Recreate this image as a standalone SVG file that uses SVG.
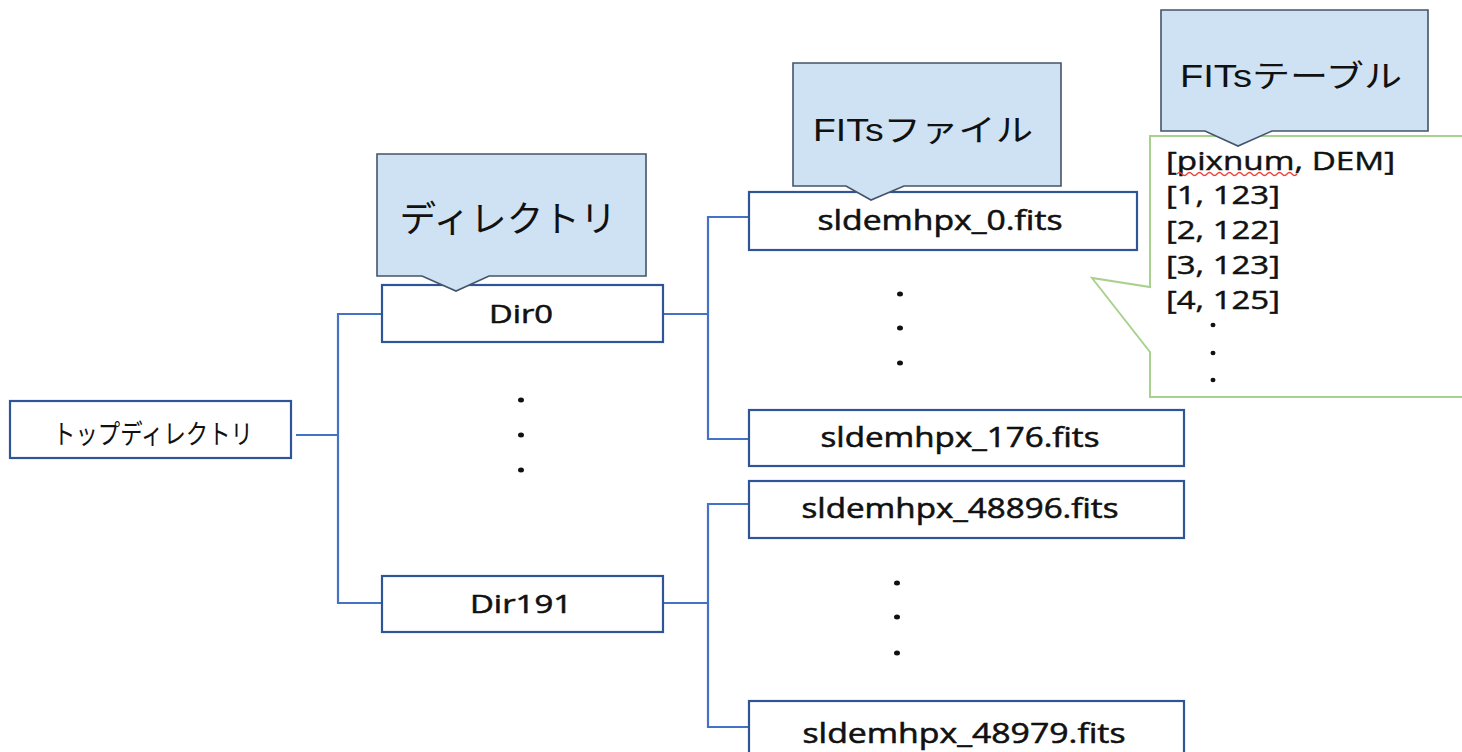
<svg xmlns="http://www.w3.org/2000/svg" width="1462" height="752" viewBox="0 0 1462 752">
  <style>
    .box { fill: #ffffff; stroke: #2f5597; stroke-width: 2.2; }
    .link { fill: none; stroke: #4472c4; stroke-width: 2.2; }
    .call { fill: #cfe2f3; stroke: #44546a; stroke-width: 1.6; }
    .table { fill: #ffffff; stroke: #a9d18e; stroke-width: 2; }
    .lbl { font-family: "Open Sans", "Noto Sans", sans-serif; fill: #111111; stroke: #111111; stroke-width: 0.55; text-anchor: middle; }
    .jp { font-family: "Noto Sans CJK JP", sans-serif; fill: #111111; text-anchor: middle; }
    .head { font-family: "Liberation Sans", "Noto Sans CJK JP", sans-serif; fill: #111111; text-anchor: middle; }
    .row { font-family: "Open Sans", "Noto Sans", sans-serif; font-size: 26px; fill: #111111; stroke: #111111; stroke-width: 0.45; }
    .dot { fill: #111111; }
  </style>

  <!-- tree connectors -->
  <g id="connectors">
    <path class="link" d="M296 435 H338"/>
    <path class="link" d="M382 314 H338 V603 H382"/>
    <path class="link" d="M663 314 H708"/>
    <path class="link" d="M749 217 H708 V439 H749"/>
    <path class="link" d="M663 603 H708"/>
    <path class="link" d="M749 504 H708 V727 H749"/>
  </g>

  <!-- root directory -->
  <g id="top-dir">
    <rect class="box" x="10" y="401" width="281" height="57"/>
    <text class="jp" x="153" y="444" font-size="27" textLength="200" lengthAdjust="spacingAndGlyphs">トップディレクトリ</text>
  </g>

  <!-- directories -->
  <g id="dir0">
    <rect class="box" x="382" y="285" width="281" height="57"/>
    <text class="lbl" x="521" y="323" font-size="25" textLength="64" lengthAdjust="spacingAndGlyphs">Dir0</text>
  </g>
  <g id="dir-dots">
    <ellipse class="dot" cx="521" cy="400" rx="3" ry="2.5"/>
    <ellipse class="dot" cx="521" cy="435" rx="3" ry="2.5"/>
    <ellipse class="dot" cx="521" cy="470" rx="3" ry="2.5"/>
  </g>
  <g id="dir191">
    <rect class="box" x="382" y="576" width="281" height="56"/>
    <text class="lbl" x="521" y="613" font-size="25" textLength="102" lengthAdjust="spacingAndGlyphs">Dir191</text>
  </g>

  <!-- FITS files -->
  <g id="file-0">
    <rect class="box" x="749" y="192" width="388" height="58"/>
    <text class="lbl" x="940" y="230" font-size="27" textLength="245" lengthAdjust="spacingAndGlyphs">sldemhpx_0.fits</text>
  </g>
  <g id="file-dots-a">
    <ellipse class="dot" cx="900" cy="294" rx="3" ry="2.5"/>
    <ellipse class="dot" cx="900" cy="328" rx="3" ry="2.5"/>
    <ellipse class="dot" cx="900" cy="363" rx="3" ry="2.5"/>
  </g>
  <g id="file-176">
    <rect class="box" x="749" y="410" width="435" height="56"/>
    <text class="lbl" x="960" y="447" font-size="27" textLength="279" lengthAdjust="spacingAndGlyphs">sldemhpx_176.fits</text>
  </g>
  <g id="file-48896">
    <rect class="box" x="749" y="481" width="435" height="57"/>
    <text class="lbl" x="960" y="518" font-size="27" textLength="317" lengthAdjust="spacingAndGlyphs">sldemhpx_48896.fits</text>
  </g>
  <g id="file-dots-b">
    <ellipse class="dot" cx="897" cy="583" rx="3" ry="2.5"/>
    <ellipse class="dot" cx="897" cy="617" rx="3" ry="2.5"/>
    <ellipse class="dot" cx="897" cy="653" rx="3" ry="2.5"/>
  </g>
  <g id="file-48979">
    <rect class="box" x="749" y="701" width="435" height="70"/>
    <text class="lbl" x="964" y="743" font-size="27" textLength="323" lengthAdjust="spacingAndGlyphs">sldemhpx_48979.fits</text>
  </g>

  <!-- table contents callout -->
  <g id="table-content">
    <path class="table" d="M1150 136 H1475 V397 H1150 V352 L1092 278 L1150 287 Z"/>
    <text class="row" x="1166" y="170" textLength="229" lengthAdjust="spacingAndGlyphs">[pixnum, DEM]</text>
    <path d="M1177 174 q2.5 -3 5 0 t5 0 t5 0 t5 0 t5 0 t5 0 t5 0 t5 0 t5 0 t5 0 t5 0 t5 0 t5 0 t5 0 t5 0 t5 0 t5 0 t5 0 t5 0 t5 0 t5 0 t5 0 t5 0 t5 0" fill="none" stroke="#e8443a" stroke-width="1.3"/>
    <text class="row" x="1166" y="204" textLength="114" lengthAdjust="spacingAndGlyphs">[1, 123]</text>
    <text class="row" x="1166" y="239" textLength="114" lengthAdjust="spacingAndGlyphs">[2, 122]</text>
    <text class="row" x="1166" y="274" textLength="114" lengthAdjust="spacingAndGlyphs">[3, 123]</text>
    <text class="row" x="1166" y="309" textLength="114" lengthAdjust="spacingAndGlyphs">[4, 125]</text>
    <ellipse class="dot" cx="1213" cy="325" rx="2.5" ry="2.2"/>
    <ellipse class="dot" cx="1213" cy="353" rx="2.5" ry="2.2"/>
    <ellipse class="dot" cx="1213" cy="380" rx="2.5" ry="2.2"/>
  </g>

  <!-- label callouts -->
  <g id="callout-dir">
    <path class="call" d="M377 154 H646 V276 H489 L456 291 L422 276 H377 Z"/>
    <text class="jp" x="508" y="232" font-size="36" textLength="217" lengthAdjust="spacingAndGlyphs">ディレクトリ</text>
  </g>
  <g id="callout-file">
    <path class="call" d="M793 63 H1061 V186 H904 L871 200 L846 186 H793 Z"/>
    <text class="head" x="923" y="141" font-size="31" textLength="220" lengthAdjust="spacingAndGlyphs">FITsファイル</text>
  </g>
  <g id="callout-table">
    <path class="call" d="M1161 10 H1428 V131 H1272 L1238 146 L1205 131 H1161 Z"/>
    <text class="head" x="1291" y="87" font-size="31" textLength="222" lengthAdjust="spacingAndGlyphs">FITsテーブル</text>
  </g>
</svg>
